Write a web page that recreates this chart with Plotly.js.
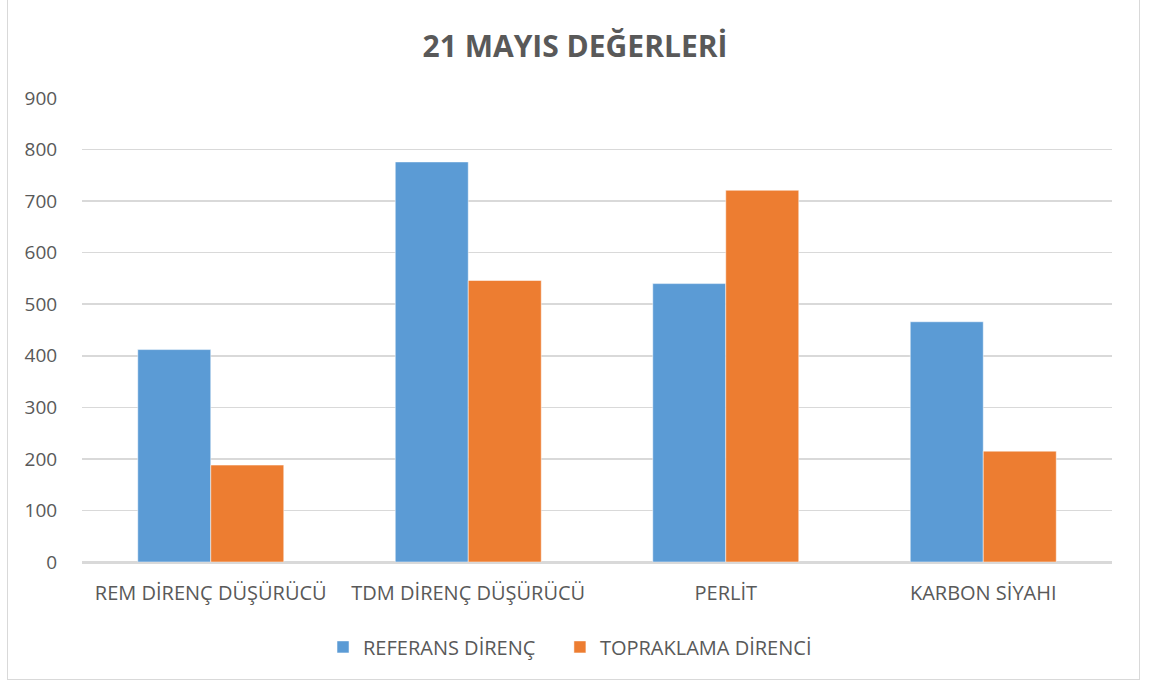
<!DOCTYPE html>
<html>
<head>
<meta charset="utf-8">
<script src="https://cdn.plot.ly/plotly-3.0.1.min.js"></script>
<style>
html,body{margin:0;padding:0;background:#fff;}
#wrap{position:relative;width:1150px;height:688px;}
#chart{width:1150px;height:688px;}
#frame{position:absolute;left:7px;top:-2px;width:1133px;height:682px;border:1px solid #d9d9d9;pointer-events:none;box-sizing:border-box;}
</style>
</head>
<body>
<div id="wrap"><div id="chart"></div><div id="frame"></div></div>
<script>
var categories = ["REM DİRENÇ DÜŞÜRÜCÜ", "TDM DİRENÇ DÜŞÜRÜCÜ", "PERLİT", "KARBON SİYAHI"];
var referansDirenc = [412, 776, 540, 466];
var topraklamaDirenci = [188, 546, 721, 215];
var seriesNames = ["REFERANS DİRENÇ", "TOPRAKLAMA DİRENCİ"];
var yTicks = [0, 100, 200, 300, 400, 500, 600, 700, 800, 900];

var fontFam = "Open Sans, Noto Sans, sans-serif";
var traces = [
  {type: "bar", name: seriesNames[0], x: categories, y: referansDirenc, legend: "legend",
   marker: {color: "#5b9bd5", line: {color: "#ffffff", width: 0.5}}},
  {type: "bar", name: seriesNames[1], x: categories, y: topraklamaDirenci, legend: "legend2",
   marker: {color: "#ed7d31", line: {color: "#ffffff", width: 0.5}}}
];
var legendFont = {family: fontFam, size: 20, color: "#595959"};
var layout = {
  width: 1150, height: 688,
  margin: {l: 82, r: 38, t: 98, b: 126},
  paper_bgcolor: "#ffffff", plot_bgcolor: "#ffffff",
  title: {text: "<b>21 MAYIS DEĞERLERİ</b>", x: 0.5, xanchor: "center", y: 0.932, yanchor: "middle",
          font: {family: fontFam, size: 30, color: "#595959"}},
  barmode: "group", bargap: 0.433, bargroupgap: 0,
  xaxis: {tickfont: {family: fontFam, size: 20, color: "#595959"}, showgrid: false,
          showline: true, linecolor: "#d9d9d9", linewidth: 1.5, ticks: "", ticklabelstandoff: 12, fixedrange: true},
  yaxis: {range: [0, 900], tickvals: yTicks, ticktext: yTicks.map(String),
          tickfont: {family: fontFam, size: 19, color: "#595959"},
          gridcolor: "#d9d9d9", gridwidth: 1.5, zeroline: true, zerolinecolor: "#d9d9d9", zerolinewidth: 1.5,
          showline: false, ticks: "outside", ticklen: 20, tickcolor: "rgba(0,0,0,0)", fixedrange: true},
  showlegend: true,
  legend: {orientation: "h", x: 0.234, xanchor: "left", y: -0.183, yanchor: "middle",
           font: legendFont, itemwidth: 30},
  legend2: {orientation: "h", x: 0.464, xanchor: "left", y: -0.183, yanchor: "middle",
           font: legendFont, itemwidth: 30}
};
Plotly.newPlot("chart", traces, layout, {displayModeBar: false, staticPlot: true});
</script>
</body>
</html>
